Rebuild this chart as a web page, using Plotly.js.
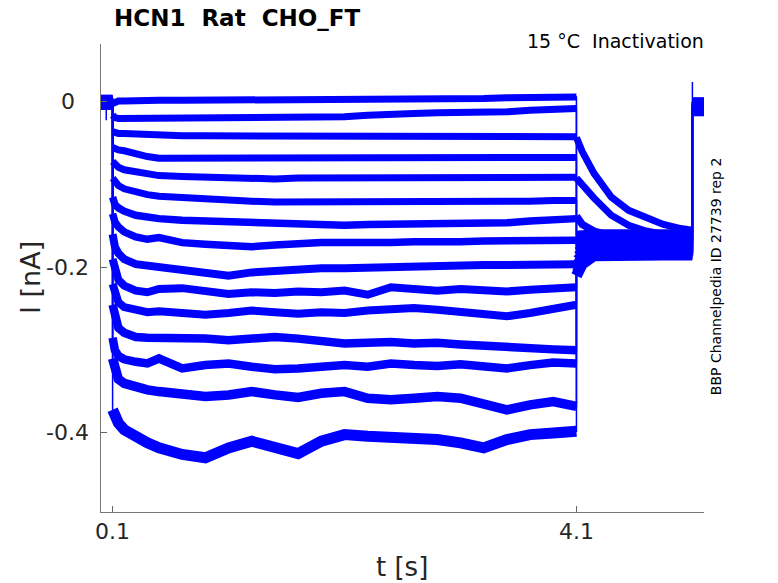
<!DOCTYPE html>
<html>
<head>
<meta charset="utf-8">
<script src="https://cdn.plot.ly/plotly-3.0.1.min.js"></script>
<style>
  body { margin: 0; background: #fff; }
  #chart { width: 778px; height: 583px; }
</style>
</head>
<body>
<div id="chart"></div>
<script>
// time base of the step protocol [s]
var tHold = [0.0, 0.1];
var tPulse = [0.1, 0.12, 0.15, 0.2, 0.3, 0.4, 0.5, 0.7, 0.9, 1.1, 1.3, 1.5, 1.7, 1.9,
              2.1, 2.3, 2.5, 2.7, 2.9, 3.1, 3.3, 3.5, 3.7, 3.9, 4.1];
var tTail = [4.1, 4.15, 4.25, 4.4, 4.55, 4.7, 4.85, 5.0, 5.1];
var tPost = [5.1, 5.2];

// holding current before the step and after the end of the sweep [nA]
var holdLevel = [0.004, 0.002, 0.000, -0.002, -0.004, 0.003, 0.001, -0.001, -0.003, 0.004, 0.000, -0.002, 0.002, -0.004, 0.001];
var postLevel = [0.001, -0.003, -0.006, -0.010, -0.013, -0.002, -0.005, -0.008, -0.011, 0.000, -0.004, -0.007, -0.012, -0.009, -0.001];

// capacitive artefacts (sweep 1 only)
var artHoldT = 0.045, artHoldI = -0.022;
var artPostT = 5.1, artPostI = 0.024;

// current during the conditioning step, one array per sweep [nA]
var sweep1  = [-0.002, 0.000, 0.001, 0.001, 0.002, 0.002, 0.002, 0.002, 0.002, 0.002, 0.003, 0.002, 0.002, 0.002, 0.002, 0.003, 0.003, 0.003, 0.004, 0.004, 0.004, 0.005, 0.005, 0.006, 0.006];
var sweep2  = [-0.016, -0.019, -0.020, -0.020, -0.020, -0.020, -0.019, -0.019, -0.019, -0.018, -0.018, -0.018, -0.018, -0.018, -0.018, -0.016, -0.014, -0.014, -0.013, -0.013, -0.012, -0.012, -0.010, -0.008, -0.008];
var sweep3  = [-0.036, -0.037, -0.038, -0.038, -0.039, -0.040, -0.040, -0.041, -0.041, -0.041, -0.042, -0.042, -0.042, -0.042, -0.042, -0.042, -0.043, -0.042, -0.042, -0.043, -0.042, -0.042, -0.042, -0.042, -0.042];
var sweep4  = [-0.055, -0.057, -0.058, -0.059, -0.063, -0.066, -0.068, -0.068, -0.068, -0.069, -0.068, -0.069, -0.069, -0.068, -0.069, -0.069, -0.068, -0.069, -0.068, -0.068, -0.068, -0.067, -0.068, -0.067, -0.067];
var sweep5  = [-0.072, -0.076, -0.079, -0.082, -0.085, -0.088, -0.089, -0.090, -0.091, -0.093, -0.092, -0.093, -0.092, -0.092, -0.092, -0.093, -0.092, -0.092, -0.091, -0.092, -0.092, -0.091, -0.092, -0.091, -0.091];
var sweep6  = [-0.092, -0.097, -0.101, -0.105, -0.109, -0.112, -0.114, -0.116, -0.118, -0.119, -0.120, -0.121, -0.121, -0.121, -0.122, -0.121, -0.122, -0.121, -0.121, -0.120, -0.121, -0.120, -0.120, -0.119, -0.119];
var sweep7  = [-0.115, -0.124, -0.128, -0.132, -0.137, -0.140, -0.141, -0.143, -0.144, -0.146, -0.147, -0.148, -0.148, -0.149, -0.149, -0.148, -0.148, -0.147, -0.147, -0.147, -0.146, -0.146, -0.144, -0.142, -0.141];
var sweep8  = [-0.135, -0.145, -0.151, -0.157, -0.163, -0.166, -0.164, -0.170, -0.172, -0.174, -0.175, -0.173, -0.171, -0.170, -0.170, -0.171, -0.170, -0.169, -0.170, -0.169, -0.168, -0.168, -0.167, -0.166, -0.167];
var sweep9  = [-0.160, -0.175, -0.183, -0.190, -0.196, -0.198, -0.199, -0.202, -0.208, -0.210, -0.206, -0.204, -0.202, -0.201, -0.201, -0.200, -0.200, -0.199, -0.199, -0.198, -0.197, -0.197, -0.197, -0.196, -0.196];
var sweep10 = [-0.190, -0.205, -0.215, -0.222, -0.228, -0.230, -0.226, -0.225, -0.228, -0.232, -0.230, -0.231, -0.229, -0.230, -0.228, -0.233, -0.224, -0.226, -0.228, -0.226, -0.228, -0.229, -0.227, -0.225, -0.224];
var sweep11 = [-0.220, -0.232, -0.242, -0.248, -0.252, -0.254, -0.253, -0.255, -0.257, -0.255, -0.252, -0.254, -0.256, -0.254, -0.255, -0.252, -0.250, -0.249, -0.251, -0.253, -0.256, -0.259, -0.255, -0.250, -0.245];
var sweep12 = [-0.245, -0.262, -0.273, -0.279, -0.284, -0.285, -0.285, -0.285, -0.286, -0.288, -0.287, -0.284, -0.286, -0.288, -0.292, -0.291, -0.290, -0.292, -0.291, -0.293, -0.295, -0.296, -0.298, -0.299, -0.300];
var sweep13 = [-0.285, -0.300, -0.307, -0.311, -0.314, -0.316, -0.310, -0.322, -0.318, -0.316, -0.320, -0.323, -0.322, -0.321, -0.318, -0.320, -0.316, -0.318, -0.319, -0.317, -0.320, -0.322, -0.318, -0.315, -0.316];
var sweep14 = [-0.310, -0.325, -0.335, -0.340, -0.345, -0.348, -0.350, -0.352, -0.356, -0.354, -0.350, -0.354, -0.357, -0.352, -0.350, -0.358, -0.360, -0.358, -0.356, -0.358, -0.364, -0.372, -0.366, -0.362, -0.368];
var sweep15 = [-0.372, -0.380, -0.388, -0.396, -0.405, -0.412, -0.418, -0.426, -0.430, -0.418, -0.410, -0.418, -0.425, -0.410, -0.402, -0.404, -0.405, -0.404, -0.408, -0.412, -0.418, -0.408, -0.402, -0.400, -0.398];

// current during the test step, one array per sweep [nA]
var tail1  = [-0.168, -0.166, -0.165, -0.164, -0.165, -0.164, -0.165, -0.164, -0.165];
var tail2  = [-0.160, -0.159, -0.158, -0.158, -0.157, -0.158, -0.158, -0.157, -0.158];
var tail3  = [-0.043, -0.060, -0.086, -0.115, -0.131, -0.140, -0.148, -0.153, -0.155];
var tail4  = [-0.175, -0.172, -0.170, -0.169, -0.170, -0.169, -0.170, -0.169, -0.170];
var tail5  = [-0.092, -0.101, -0.116, -0.137, -0.149, -0.156, -0.160, -0.161, -0.162];
var tail6  = [-0.180, -0.176, -0.174, -0.173, -0.173, -0.174, -0.173, -0.174, -0.173];
var tail7  = [-0.138, -0.148, -0.156, -0.162, -0.165, -0.167, -0.168, -0.168, -0.168];
var tail8  = [-0.185, -0.180, -0.177, -0.176, -0.176, -0.177, -0.176, -0.177, -0.176];
var tail9  = [-0.190, -0.183, -0.179, -0.178, -0.179, -0.178, -0.179, -0.178, -0.178];
var tail10 = [-0.195, -0.186, -0.181, -0.180, -0.181, -0.180, -0.181, -0.180, -0.180];
var tail11 = [-0.198, -0.188, -0.182, -0.181, -0.181, -0.182, -0.181, -0.182, -0.181];
var tail12 = [-0.200, -0.190, -0.183, -0.182, -0.182, -0.183, -0.182, -0.182, -0.182];
var tail13 = [-0.203, -0.192, -0.184, -0.183, -0.183, -0.183, -0.183, -0.183, -0.183];
var tail14 = [-0.206, -0.194, -0.185, -0.184, -0.184, -0.184, -0.184, -0.184, -0.184];
var tail15 = [-0.210, -0.196, -0.186, -0.185, -0.185, -0.185, -0.185, -0.185, -0.185];

var pulses = [sweep1, sweep2, sweep3, sweep4, sweep5, sweep6, sweep7, sweep8,
              sweep9, sweep10, sweep11, sweep12, sweep13, sweep14, sweep15];
var tails = [tail1, tail2, tail3, tail4, tail5, tail6, tail7, tail8,
             tail9, tail10, tail11, tail12, tail13, tail14, tail15];

// axes
var xTickVals = [0.1, 4.1];
var xTickText = ['0.1', '4.1'];
var yTickVals = [0, -0.2, -0.4];
var yTickText = ['0', '-0.2', '-0.4'];

var titleText = 'HCN1  Rat  CHO_FT';
var condText = '15 \u00b0C  Inactivation';
var sourceText = 'BBP Channelpedia ID 27739 rep 2';
var xLabel = 't [s]';
var yLabel = 'I [nA]';

// thickness of the noise band of each sweep (style only)
var bandWidth = [7, 7, 7, 7, 7, 7, 7.5, 7.5, 8, 8, 8, 8.5, 8.5, 9.5, 11];

var FONT = 'DejaVu Sans';
var BLUE = '#0000ff';

var traces = [];

pulses.forEach(function(p, k) {
	var tl = tails[k];

	// whole sweep as a thin line: this draws the instantaneous jumps
	var x = [], y = [];
	x.push(tHold[0]); y.push(holdLevel[k]);
	if (k == 0) {
		x.push(artHoldT, artHoldT, artHoldT); y.push(holdLevel[k], artHoldI, holdLevel[k]);
	}
	x.push(tHold[1]); y.push(holdLevel[k]);
	tPulse.forEach(function(t, i) { x.push(t); y.push(p[i]); });
	tTail.forEach(function(t, i) { x.push(t); y.push(tl[i]); });
	if (k == 0) { x.push(artPostT); y.push(artPostI); }
	x.push(tPost[0], tPost[1]); y.push(postLevel[k], postLevel[k]);

	traces.push({
		x: x, y: y, type: 'scatter', mode: 'lines',
		line: {color: BLUE, width: 1.5},
		hoverinfo: 'skip'
	});

	// noisy segments drawn as a thick band, separated by gaps
	var bx = [], by = [];
	tHold.forEach(function(t) { bx.push(t); by.push(holdLevel[k]); });
	bx.push(null); by.push(null);
	tPulse.forEach(function(t, i) { bx.push(t); by.push(p[i]); });
	bx.push(null); by.push(null);
	tTail.forEach(function(t, i) { bx.push(t); by.push(tl[i]); });
	bx.push(null); by.push(null);
	tPost.forEach(function(t) { bx.push(t); by.push(postLevel[k]); });

	traces.push({
		x: bx, y: by, type: 'scatter', mode: 'lines',
		connectgaps: false,
		line: {color: BLUE, width: bandWidth[k]},
		hoverinfo: 'skip'
	});
});

var annotations = [
	{text: '<b>' + titleText + '</b>', xref: 'paper', yref: 'paper', x: 0.018, y: 1.056,
	 xanchor: 'left', yanchor: 'middle', showarrow: false, font: {family: FONT, size: 23, color: '#000'}},
	{text: condText, xref: 'paper', yref: 'paper', x: 1.003, y: 1.006,
	 xanchor: 'right', yanchor: 'middle', showarrow: false, font: {family: FONT, size: 19, color: '#000'}},
	{text: sourceText, xref: 'paper', yref: 'paper', x: 1.02, y: 0.504, textangle: -90,
	 xanchor: 'center', yanchor: 'middle', showarrow: false, font: {family: FONT, size: 14, color: '#000'}},
	{text: xLabel, xref: 'paper', yref: 'paper', x: 0.499, y: -0.1175,
	 xanchor: 'center', yanchor: 'middle', showarrow: false, font: {family: FONT, size: 26, color: '#262626'}},
	{text: yLabel, xref: 'paper', yref: 'paper', x: -0.1177, y: 0.5, textangle: -90,
	 xanchor: 'center', yanchor: 'middle', showarrow: false, font: {family: FONT, size: 27, color: '#262626'}}
];

yTickVals.forEach(function(v, i) {
	annotations.push({text: yTickText[i], xref: 'paper', yref: 'y', x: -0.055, y: v,
		xanchor: 'center', yanchor: 'middle', showarrow: false,
		font: {family: FONT, size: 22, color: '#262626'}});
});

var layout = {
	width: 778,
	height: 583,
	margin: {l: 101, r: 74, t: 44, b: 71},
	paper_bgcolor: '#fff',
	plot_bgcolor: '#fff',
	showlegend: false,
	xaxis: {
		range: [0, 5.2],
		tickvals: xTickVals,
		ticktext: xTickText,
		ticks: 'inside',
		ticklen: 6,
		tickcolor: '#666',
		showline: true,
		linecolor: '#777',
		linewidth: 1,
		showgrid: false,
		zeroline: false,
		tickfont: {family: FONT, size: 22, color: '#262626'}
	},
	yaxis: {
		range: [-0.4955, 0.07],
		tickvals: yTickVals,
		showticklabels: false,
		ticks: 'inside',
		ticklen: 6,
		tickcolor: '#666',
		showline: true,
		linecolor: '#777',
		linewidth: 1,
		showgrid: false,
		zeroline: false
	},
	annotations: annotations
};

Plotly.newPlot('chart', traces, layout, {staticPlot: true, displayModeBar: false});
</script>
</body>
</html>
